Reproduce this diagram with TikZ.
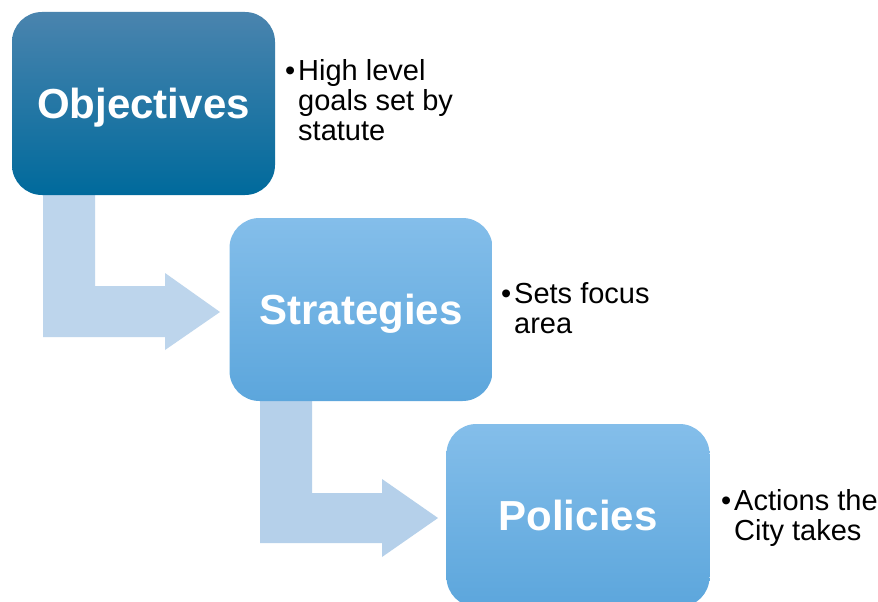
\documentclass[tikz,border=0pt]{standalone}
\usepackage{fontspec}
\setmainfont{Liberation Sans}
\definecolor{objtop}{RGB}{74,132,174}
\definecolor{objmid}{RGB}{6,114,164}
\definecolor{objbot}{RGB}{0,106,156}
\definecolor{bltop}{RGB}{132,190,234}
\definecolor{blmid}{RGB}{106,180,234}
\definecolor{blbot}{RGB}{92,166,220}
\definecolor{arrowfill}{RGB}{189,213,236}
\definecolor{arrowfillb}{RGB}{181,208,234}
\begin{document}
\begin{tikzpicture}[x=1pt,y=-1pt,
  box/.style={rounded corners=30pt, minimum width=263pt, minimum height=183pt,
    inner sep=0pt, text height=30pt, text depth=0pt, text=white,
    font=\fontsize{42}{50}\selectfont\bfseries},
  objbox/.style={box, top color=objtop, middle color=objmid, bottom color=objbot},
  bluebox/.style={box, top color=bltop, middle color=blmid, bottom color=blbot},
  desc/.style={anchor=base west, align=left, inner sep=0pt,
    font=\fontsize{29}{30}\selectfont}
]
\useasboundingbox (0,0) rectangle (878,602);
\fill[white] (0,0) rectangle (878,602);

% bent block arrows (drawn first, under the boxes)
\fill[arrowfill] (43,185) -- (95,185) -- (95,286) -- (165,286) -- (165,273)
  -- (220,312) -- (165,350) -- (165,337) -- (43,337) -- cycle;
\fill[arrowfillb] (260,390) -- (312,390) -- (312,493) -- (382,493) -- (382,479)
  -- (438,518) -- (382,557) -- (382,543) -- (260,543) -- cycle;

\node[objbox] (obj) at (143.5,103.5) {Objectives};
\node[bluebox] (strat) at (361,309.5) {Strategies};
\node[bluebox] (pol) at (578,515.5) {Policies};

\newcommand{\bul}{\makebox[13pt][l]{•}}
\newcommand{\nob}{\hspace*{13pt}}
% the base anchor of a multi-line node is the baseline of its last line
\node[desc] (objd) at (285,140) {\bul High level\\\nob goals set by\\\nob statute};
\node[desc] (stratd) at (501,333) {\bul Sets focus\\\nob area};
\node[desc] (pold) at (721,540) {\bul Actions the\\\nob City takes};
\end{tikzpicture}
\end{document}
